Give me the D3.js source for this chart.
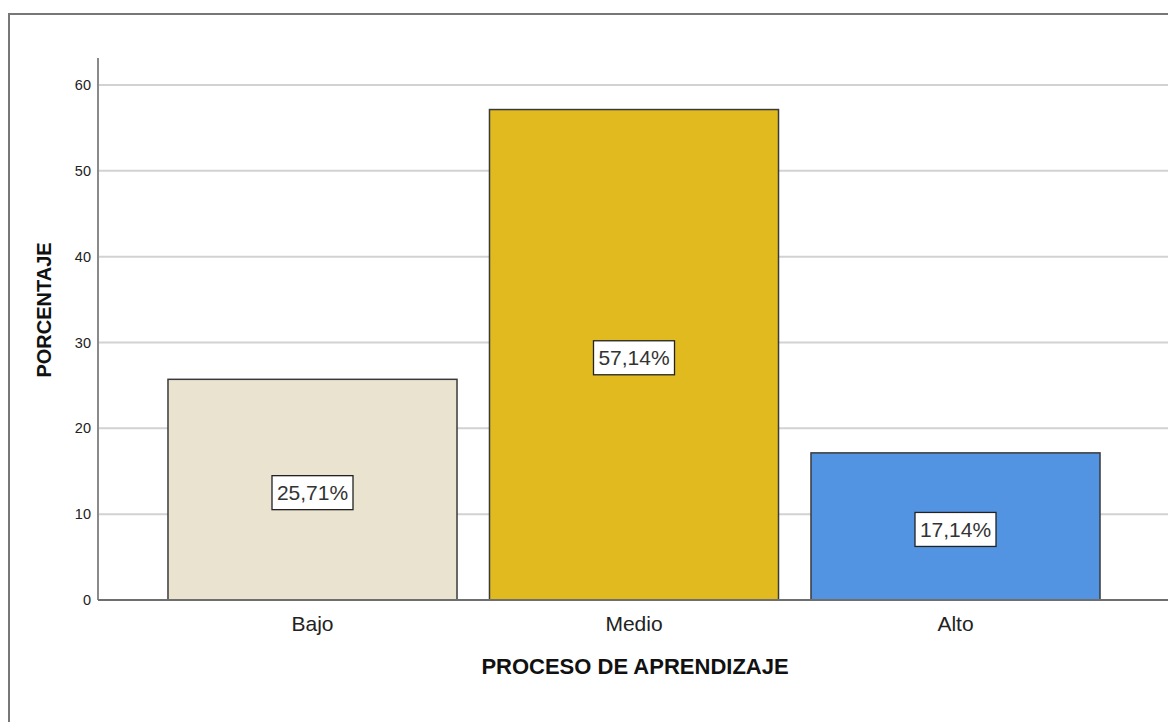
<!DOCTYPE html>
<html>
<head>
<meta charset="utf-8">
<script src="https://cdn.jsdelivr.net/npm/d3@7"></script>
<style>
  html, body { margin: 0; padding: 0; background: #fff; }
  svg { display: block; font-family: Arial, "Liberation Sans", sans-serif; }
</style>
</head>
<body>
<svg id="chart" width="1168" height="722"></svg>
<script>
const categories = ["Bajo", "Medio", "Alto"];
const values = [25.71, 57.14, 17.14];
const valueLabels = ["25,71%", "57,14%", "17,14%"];
const barColors = ["#E9E3D0", "#E0BA1E", "#5294E2"];
const yTicks = [0, 10, 20, 30, 40, 50, 60];
const xTitle = "PROCESO DE APRENDIZAJE";
const yTitle = "PORCENTAJE";

const svg = d3.select("#chart");

// outer frame (extends past right/bottom edges)
svg.append("rect")
  .attr("x", 9).attr("y", 14)
  .attr("width", 1200).attr("height", 760)
  .attr("fill", "none").attr("stroke", "#777").attr("stroke-width", 2);

const y = d3.scaleLinear().domain([0, 60]).range([600, 85]);
const x = d3.scaleBand().domain(categories)
  .range([151.75, 1116.25]).paddingInner(0.101).paddingOuter(0.0505);

const axisLeft = 98, axisRight = 1168, axisTop = 58;

// gridlines
svg.append("g").selectAll("line").data(yTicks.filter(d => d > 0)).join("line")
  .attr("x1", axisLeft).attr("x2", axisRight)
  .attr("y1", d => y(d)).attr("y2", d => y(d))
  .attr("stroke", "#D2D2D2").attr("stroke-width", 2);

// y axis via d3
const yAxis = d3.axisLeft(y).tickValues(yTicks).tickSize(0).tickPadding(7);
const gy = svg.append("g").attr("transform", `translate(${axisLeft},0)`).call(yAxis);
gy.select(".domain").remove();
gy.selectAll("text").attr("font-size", 14.5).attr("fill", "#222")
  .attr("font-family", "Arial, 'Liberation Sans', sans-serif");
svg.append("line").attr("x1", axisLeft).attr("x2", axisLeft)
  .attr("y1", axisTop).attr("y2", y(0))
  .attr("stroke", "#8A8A8A").attr("stroke-width", 2);

// bars
svg.append("g").selectAll("rect").data(categories).join("rect")
  .attr("x", d => x(d))
  .attr("y", (d, i) => y(values[i]))
  .attr("width", x.bandwidth())
  .attr("height", (d, i) => y(0) - y(values[i]))
  .attr("fill", (d, i) => barColors[i])
  .attr("stroke", "#3A3A3A").attr("stroke-width", 1.5);

// x axis baseline
svg.append("line").attr("x1", axisLeft).attr("x2", axisRight)
  .attr("y1", y(0)).attr("y2", y(0))
  .attr("stroke", "#6E6E6E").attr("stroke-width", 2);

// x axis labels
const xAxis = d3.axisBottom(x).tickSize(0).tickPadding(0);
const gx = svg.append("g").attr("transform", `translate(0,${y(0)})`).call(xAxis);
gx.select(".domain").remove();
gx.selectAll("text").attr("font-size", 21).attr("fill", "#222")
  .attr("dy", null).attr("y", 31)
  .attr("font-family", "Arial, 'Liberation Sans', sans-serif");

// value labels
const lab = svg.append("g").selectAll("g").data(categories).join("g")
  .attr("transform", (d, i) => `translate(${x(d) + x.bandwidth() / 2},${(y(0) + y(values[i])) / 2 + 3})`);
lab.append("rect")
  .attr("x", -40.5).attr("y", -17).attr("width", 81).attr("height", 34)
  .attr("fill", "#fff").attr("stroke", "#222").attr("stroke-width", 1.3);
lab.append("text")
  .attr("text-anchor", "middle").attr("dy", "0.36em")
  .attr("font-size", 21).attr("fill", "#333")
  .text((d, i) => valueLabels[i]);

// axis titles
svg.append("text")
  .attr("x", 635).attr("y", 674)
  .attr("text-anchor", "middle")
  .attr("font-size", 22).attr("font-weight", "bold").attr("fill", "#111")
  .text(xTitle);
svg.append("text")
  .attr("transform", "translate(51,310) rotate(-90)")
  .attr("text-anchor", "middle")
  .attr("font-size", 20).attr("font-weight", "bold").attr("fill", "#111")
  .text(yTitle);
</script>
</body>
</html>
